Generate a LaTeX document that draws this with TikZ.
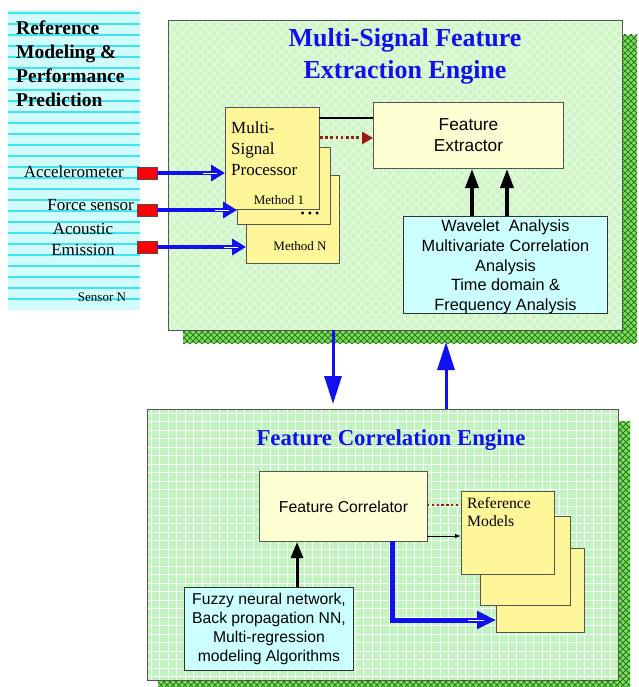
\documentclass[tikz,border=0pt]{standalone}
\usepackage{fontspec}
\setmainfont{Liberation Serif}
\newfontfamily\sansf{Liberation Sans}
\usetikzlibrary{arrows.meta}
\definecolor{cyanbg}{HTML}{D2FCFC}
\definecolor{cyanstripe}{HTML}{3CE6F0}
\definecolor{topfill}{HTML}{D0F6C8}
\definecolor{shadowfill}{HTML}{7CE052}
\definecolor{shadowline}{HTML}{2A7A2A}
\definecolor{botfill}{HTML}{C2F4C0}
\definecolor{yel}{HTML}{FFF69A}
\definecolor{lyel}{HTML}{FFFFD4}
\definecolor{cbox}{HTML}{CCFFFF}
\definecolor{bblue}{RGB}{16,16,240}
\definecolor{dred}{HTML}{A01818}
\definecolor{bordergray}{HTML}{555555}
\tikzset{
  ybox/.style={draw=bordergray, line width=1pt, fill=yel, anchor=north west, inner sep=0pt},
  lybox/.style={draw=bordergray, line width=1pt, fill=lyel, anchor=north west, inner sep=0pt},
  cybox/.style={draw=black!80, line width=1pt, fill=cbox, anchor=north west, inner sep=0pt},
  sensor/.style={draw=black!70, fill=red, line width=0.6pt, minimum width=20pt, minimum height=12pt, inner sep=0pt},
  serift/.style={font=\fontsize{17}{21}\selectfont},
  sanst/.style={font=\sansf\fontsize{16.3}{19.7}\selectfont, align=center},
  bigtitle/.style={text=bblue, align=center},
  bluearrow/.style={draw=bblue, line width=4pt, -{Triangle[length=14pt,width=16pt]}},
  streak/.style={draw=white, line width=1pt},
  linkarrow/.style={draw=bblue, line width=3pt, -{Triangle[length=28pt,width=17pt]}},
  blackup/.style={draw=black, line width=3.5pt, -{Triangle[length=19pt,width=13pt]}},
  dotarrow/.style={draw=dred, line width=3pt, dash pattern=on 2.6pt off 2.6pt, -{Triangle[length=11pt,width=12pt]}},
}
\begin{document}
\begin{tikzpicture}[x=1pt,y=-1pt]
\useasboundingbox (0,0) rectangle (638,687);
\fill[white] (0,0) rectangle (638,687);

% ---------- left panel ----------
\fill[cyanbg] (8,10) rectangle (140,310);
\foreach \yy in {12,23,...,305} \fill[cyanstripe] (8,\yy) rectangle (140,\yy+2.2);
\node[anchor=north west, align=left, font=\bfseries\fontsize{19.5}{24}\selectfont, inner sep=0pt] (reftitle) at (16,21)
  {Reference\\Modeling \&\\Performance\\Prediction};

% ---------- top box shadow ----------
\begin{scope}
\clip (183,35) rectangle (637,343);
\fill[shadowfill] (183,35) rectangle (637,343);
\foreach \k in {0,6,...,1020} {
  \draw[shadowline, line width=0.9pt] (\k,0) -- ++(-400,400);
  \draw[shadowline, line width=0.9pt] (\k-400,0) -- ++(400,400);
}
\end{scope}

% ---------- top box fill ----------
\begin{scope}
\clip (168,20) rectangle (622,330);
\fill[topfill] (168,20) rectangle (622,330);
\foreach \k in {0,9,...,1100} {
  \draw[white, opacity=0.5, line width=1pt] (\k,0) -- ++(-400,400);
  \draw[white, opacity=0.5, line width=1pt] (\k-400,0) -- ++(400,400);
}
\end{scope}
\node (top) [draw=bordergray, line width=1.2pt, anchor=north west, inner sep=0pt,
  minimum width=454pt, minimum height=310pt] at (168,20) {};
\node (toptitle) [bigtitle, font=\bfseries\fontsize{26}{32}\selectfont] at (405,56)
  {Multi-Signal Feature\\Extraction Engine};

% multi-signal processor stack
\node (ms3) [ybox, minimum width=93pt, minimum height=88pt] at (246,175) {};
\node (ms2) [ybox, minimum width=93pt, minimum height=77pt] at (237,147) {};
\node (ms1) [ybox, minimum width=94pt, minimum height=102pt] at (225,107) {};
\node (mstext) [serift, anchor=north west, align=left, inner sep=0pt] at (231,122)
  {Multi-\\Signal\\Processor};
\node (m1) [font=\fontsize{13}{15}\selectfont, inner sep=0pt] at (279,200) {Method 1};
\node (mdots) [font=\fontsize{12}{13}\selectfont, inner sep=0pt] at (310,215) {\textbullet\ \textbullet\ \textbullet};
\node (mN) [font=\fontsize{13}{15}\selectfont, inner sep=0pt] at (300,246) {Method N};

% feature extractor
\node (fe) [lybox, minimum width=190pt, minimum height=66pt] at (373,102) {};
\node (fetext) [sanst, font=\sansf\fontsize{17.3}{21}\selectfont] at (fe.center) {Feature\\Extractor};

% wavelet box
\node (wav) [cybox, minimum width=204pt, minimum height=97pt] at (403,216) {};
\node (wavtext) [sanst] at ([yshift=-2pt]wav.center)
  {Wavelet\ \ Analysis\\Multivariate Correlation\\Analysis\\Time domain \&\\Frequency Analysis};

% connectors in top box
\coordinate (msA) at (319,118);
\draw[black, line width=1.5pt] (msA) -- (msA -| fe.west);
\coordinate (msB) at (320,138);
\draw[dotarrow] (msB) -- (msB -| fe.west);
\coordinate (w1) at (472,216);
\coordinate (w2) at (507,216);
\draw[blackup] (w1) -- (w1 |- fe.south);
\draw[blackup] (w2) -- (w2 |- fe.south);

% sensors
\node (s1) [sensor] at (147,173) {};
\node (s2) [sensor] at (147,210) {};
\node (s3) [sensor] at (147,247) {};
\node (l1) [serift, anchor=east, inner sep=0pt] at (124,172) {Accelerometer};
\node (l2) [serift, anchor=east, inner sep=0pt] at (134,205) {Force sensor};
\node (l3) [serift, align=center, inner sep=0pt] at (83,239) {Acoustic\\Emission};
\node (sN) [font=\fontsize{13}{15}\selectfont, inner sep=0pt] at (102,297) {Sensor N};
\draw[bluearrow] (s1.east) -- (s1.east -| ms1.west);
\draw[bluearrow] (s2.east) -- (s2.east -| ms2.west);
\draw[bluearrow] (s3.east) -- (s3.east -| ms3.west);
\draw[streak] ([xshift=-22pt]s1.east -| ms1.west) -- ([xshift=-8pt]s1.east -| ms1.west);
\draw[streak] ([xshift=-22pt]s2.east -| ms2.west) -- ([xshift=-8pt]s2.east -| ms2.west);
\draw[streak] ([xshift=-22pt]s3.east -| ms3.west) -- ([xshift=-8pt]s3.east -| ms3.west);

% ---------- bottom box shadow ----------
\begin{scope}
\clip (158,421) rectangle (630,690);
\fill[shadowfill] (158,421) rectangle (630,690);
\foreach \k in {0,6,...,1100} {
  \draw[shadowline, line width=0.9pt] (\k,300) -- ++(-500,500);
  \draw[shadowline, line width=0.9pt] (\k-500,300) -- ++(500,500);
}
\end{scope}

% ---------- bottom box fill ----------
\begin{scope}
\clip (147,409) rectangle (618,680);
\fill[botfill] (147,409) rectangle (618,680);
\foreach \k in {151,159.5,...,620} \draw[white, line width=1pt] (\k,405) -- (\k,685);
\foreach \k in {413,421.5,...,680} \draw[white, line width=1pt] (140,\k) -- (625,\k);
\end{scope}
\node (bot) [draw=bordergray, line width=1.2pt, anchor=north west, inner sep=0pt,
  minimum width=471pt, minimum height=271pt] at (147,409) {};
\node (bottitle) [bigtitle, font=\bfseries\fontsize{22.8}{26}\selectfont] at (391,440)
  {Feature Correlation Engine};

% feature correlator
\node (fc) [lybox, minimum width=168pt, minimum height=70pt] at (259,471) {};
\node (fctext) [sanst, font=\sansf\fontsize{15.8}{19}\selectfont] at (fc.center) {Feature Correlator};

% reference models stack
\node (rm3) [ybox, minimum width=88pt, minimum height=84pt] at (496,548) {};
\node (rm2) [ybox, minimum width=90pt, minimum height=89pt] at (480,516) {};
\node (rm1) [ybox, minimum width=93pt, minimum height=83pt] at (461,491) {};
\node (rmtext) [font=\fontsize{15.7}{18.5}\selectfont, anchor=north west, align=left, inner sep=0pt] at (467,497)
  {Reference\\Models};

% fuzzy box
\node (fz) [cybox, minimum width=169pt, minimum height=83pt] at (184,587) {};
\node (fztext) [sanst, font=\sansf\fontsize{15.7}{19}\selectfont] at (fz.center)
  {Fuzzy neural network,\\Back propagation NN,\\Multi-regression\\modeling Algorithms};

% connectors in bottom box
\coordinate (fcA) at (427,505);
\draw[dred, line width=2.4pt, dash pattern=on 2.4pt off 2.4pt] (fcA) -- (fcA -| rm1.west);
\coordinate (fcB) at (427,536);
\draw[black, line width=0.8pt, -{Triangle[length=5pt,width=4pt]}] (fcB) -- ([xshift=-1pt]fcB -| rm1.west);
\coordinate (fzT) at (297,587);
\draw[blackup, line width=3pt, -{Triangle[length=16pt,width=12pt]}] (fzT) -- (fzT |- fc.south);
\coordinate (fcC) at (392,541);
\coordinate (rmC) at (392,620);
\draw[draw=bblue, line width=5pt, -{Triangle[length=19pt,width=17pt]}] (fcC) -- (rmC) -- (rmC -| rm3.west);
\draw[streak] ([xshift=-28pt]rmC -| rm3.west) -- ([xshift=-12pt]rmC -| rm3.west);

% links between engines
\coordinate (dnA) at (333,330);
\draw[linkarrow] (dnA) -- (333,404);
\coordinate (upA) at (446,409);
\draw[linkarrow] (upA) -- (446,342);
\end{tikzpicture}
\end{document}
